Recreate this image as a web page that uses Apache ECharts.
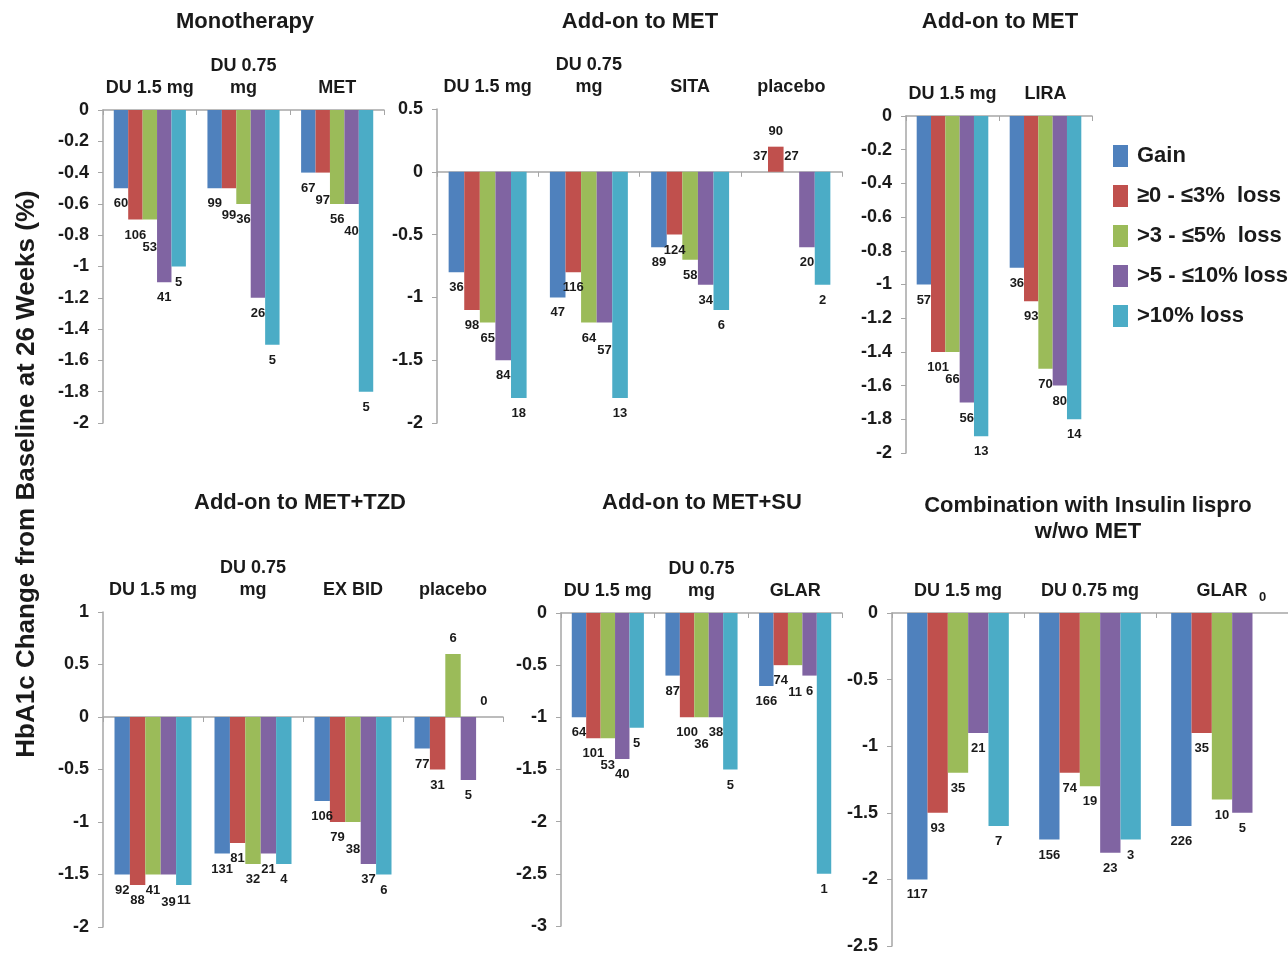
<!DOCTYPE html>
<html><head><meta charset="utf-8">
<script src="https://cdn.jsdelivr.net/npm/echarts@6/dist/echarts.min.js"></script>
<style>html,body{margin:0;padding:0;background:#fff}#c{width:1288px;height:955px}</style>
</head><body><div id="c"></div>
<script>
// ---- data ----
const seriesNames = ['Gain', '≥0 - ≤3%  loss', '>3 - ≤5%  loss', '>5 - ≤10% loss', '>10% loss'];

const monoTitle = 'Monotherapy';
const monoCategories = ['DU 1.5 mg', 'DU 0.75\nmg', 'MET'];
const monoValues = [[-0.5, -0.7, -0.7, -1.1, -1.0], [-0.5, -0.5, -0.6, -1.2, -1.5], [-0.4, -0.4, -0.6, -0.6, -1.8]];
const monoCounts = [[60, 106, 53, 41, 5], [99, 99, 36, 26, 5], [67, 97, 56, 40, 5]];

const metTitle = 'Add-on to MET';
const metCategories = ['DU 1.5 mg', 'DU 0.75\nmg', 'SITA', 'placebo'];
const metValues = [[-0.8, -1.1, -1.2, -1.5, -1.8], [-1.0, -0.8, -1.2, -1.2, -1.8], [-0.6, -0.5, -0.7, -0.9, -1.1], [0, 0.2, 0, -0.6, -0.9]];
const metCounts = [[36, 98, 65, 84, 18], [47, 116, 64, 57, 13], [89, 124, 58, 34, 6], [37, 90, 27, 20, 2]];

const liraTitle = 'Add-on to MET';
const liraCategories = ['DU 1.5 mg', 'LIRA'];
const liraValues = [[-1.0, -1.4, -1.4, -1.7, -1.9], [-0.9, -1.1, -1.5, -1.6, -1.8]];
const liraCounts = [[57, 101, 66, 56, 13], [36, 93, 70, 80, 14]];

const tzdTitle = 'Add-on to MET+TZD';
const tzdCategories = ['DU 1.5 mg', 'DU 0.75\nmg', 'EX BID', 'placebo'];
const tzdValues = [[-1.5, -1.6, -1.5, -1.5, -1.6], [-1.3, -1.2, -1.4, -1.3, -1.4], [-0.8, -1.0, -1.0, -1.4, -1.5], [-0.3, -0.5, 0.6, -0.6, 0]];
const tzdCounts = [[92, 88, 41, 39, 11], [131, 81, 32, 21, 4], [106, 79, 38, 37, 6], [77, 31, 6, 5, 0]];

const suTitle = 'Add-on to MET+SU';
const suCategories = ['DU 1.5 mg', 'DU 0.75\nmg', 'GLAR'];
const suValues = [[-1.0, -1.2, -1.2, -1.4, -1.1], [-0.6, -1.0, -1.0, -1.0, -1.5], [-0.7, -0.5, -0.5, -0.6, -2.5]];
const suCounts = [[64, 101, 53, 40, 5], [87, 100, 36, 38, 5], [166, 74, 11, 6, 1]];

const insTitle = 'Combination with Insulin lispro\nw/wo MET';
const insCategories = ['DU 1.5 mg', 'DU 0.75 mg', 'GLAR'];
const insValues = [[-2.0, -1.5, -1.2, -0.9, -1.6], [-1.7, -1.2, -1.3, -1.8, -1.7], [-1.6, -0.9, -1.4, -1.5, 0]];
const insCounts = [[117, 93, 35, 21, 7], [156, 74, 19, 23, 3], [226, 35, 10, 5, 0]];

const yAxisTitle = 'HbA1c Change from Baseline at 26 Weeks (%)';

// ---- styles / layout ----
const colors = ['#4F81BD', '#C0504D', '#9BBB59', '#8064A2', '#4BACC6'];
const FONT = '"Liberation Sans", Arial, sans-serif';
const TXT = '#1a1a1a';
const AXIS = '#a6a6a6';

const panels = [
  { title: monoTitle, cats: monoCategories, vals: monoValues, counts: monoCounts, min: -2, max: 0, interval: 0.2,
    grid: { left: 103, top: 110, width: 281, height: 313 }, tx: 245, ty: 9 },
  { title: metTitle, cats: metCategories, vals: metValues, counts: metCounts, min: -2, max: 0.5, interval: 0.5,
    grid: { left: 437, top: 109, width: 405, height: 314 }, tx: 640, ty: 9 },
  { title: liraTitle, cats: liraCategories, vals: liraValues, counts: liraCounts, min: -2, max: 0, interval: 0.2,
    grid: { left: 906, top: 116, width: 186, height: 337 }, tx: 1000, ty: 9 },
  { title: tzdTitle, cats: tzdCategories, vals: tzdValues, counts: tzdCounts, min: -2, max: 1, interval: 0.5,
    grid: { left: 103, top: 612, width: 400, height: 315 }, tx: 300, ty: 490 },
  { title: suTitle, cats: suCategories, vals: suValues, counts: suCounts, min: -3, max: 0, interval: 0.5,
    grid: { left: 561, top: 613, width: 281, height: 313 }, tx: 702, ty: 490 },
  { title: insTitle, cats: insCategories, vals: insValues, counts: insCounts, min: -2.5, max: 0, interval: 0.5,
    grid: { left: 892, top: 613, width: 398, height: 334 }, tx: 1088, ty: 493 }
];

// stagger labels of adjacent bars that end at the same height
function labelShifts(group) {
  const sh = [0];
  for (let s = 1; s < group.length; s++) {
    const same = Math.abs(group[s] - group[s - 1]) < 0.05 && group[s] !== 0;
    sh.push(same && sh[s - 1] === 0 ? 12 : 0);
  }
  return sh;
}

const grids = [], xAxes = [], yAxes = [], series = [], titles = [];
panels.forEach((p, pi) => {
  grids.push(Object.assign({ containLabel: false }, p.grid));
  titles.push({
    text: p.title, left: p.tx, top: p.ty, textAlign: 'center', padding: 0,
    textStyle: { fontFamily: FONT, fontSize: 22, fontWeight: 'bold', color: TXT, lineHeight: 26 }
  });
  xAxes.push({
    type: 'category', gridIndex: pi, data: p.cats, position: 'bottom',
    axisLine: { onZero: true, lineStyle: { color: AXIS, width: 1.5 } },
    axisTick: { show: true, length: 5, lineStyle: { color: AXIS } },
    axisLabel: { show: false }
  });
  xAxes.push({
    type: 'category', gridIndex: pi, data: p.cats, position: 'top',
    axisLine: { show: false, onZero: false }, axisTick: { show: false },
    axisLabel: { show: true, margin: 11, fontFamily: FONT, fontSize: 18, fontWeight: 'bold', color: TXT, lineHeight: 22, interval: 0 }
  });
  yAxes.push({
    type: 'value', gridIndex: pi, min: p.min, max: p.max, interval: p.interval,
    axisLine: { show: true, lineStyle: { color: AXIS, width: 1.5 } },
    axisTick: { show: true, length: 5, lineStyle: { color: AXIS } },
    splitLine: { show: false },
    axisLabel: { margin: 14, fontFamily: FONT, fontSize: 18, fontWeight: 'bold', color: TXT }
  });
  const shifts = p.vals.map(labelShifts);
  for (let s = 0; s < 5; s++) {
    series.push({
      type: 'bar', name: seriesNames[s], xAxisIndex: pi * 2, yAxisIndex: pi,
      barGap: '0%', barCategoryGap: '23%',
      itemStyle: { color: colors[s] },
      data: p.vals.map((g, ci) => ({
        value: g[s],
        label: { position: g[s] >= 0 ? 'top' : 'bottom', offset: [0, shifts[ci][s]] }
      })),
      label: {
        show: true, distance: 9,
        fontFamily: FONT, fontSize: 13, fontWeight: 'bold', color: TXT,
        formatter: (prm) => String(p.counts[prm.dataIndex][s])
      },
      emphasis: { disabled: true },
      animation: false
    });
  }
});

const chart = echarts.init(document.getElementById('c'));
chart.setOption({
  backgroundColor: '#fff',
  animation: false,
  title: titles,
  grid: grids,
  xAxis: xAxes,
  yAxis: yAxes,
  series: series,
  legend: {
    data: seriesNames, orient: 'vertical', left: 1108, top: 140,
    icon: 'rect', itemWidth: 15, itemHeight: 22, itemGap: 18,
    textStyle: { fontFamily: FONT, fontSize: 22, fontWeight: 'bold', color: TXT, padding: [0, 0, 0, 4] },
    selectedMode: false
  },
  graphic: [{
    type: 'text', x: 27, y: 474, rotation: Math.PI / 2,
    style: { text: yAxisTitle, fontFamily: FONT, fontSize: 26, fontWeight: 'bold', fill: TXT, textAlign: 'center', textVerticalAlign: 'middle' }
  }]
});
</script></body></html>
